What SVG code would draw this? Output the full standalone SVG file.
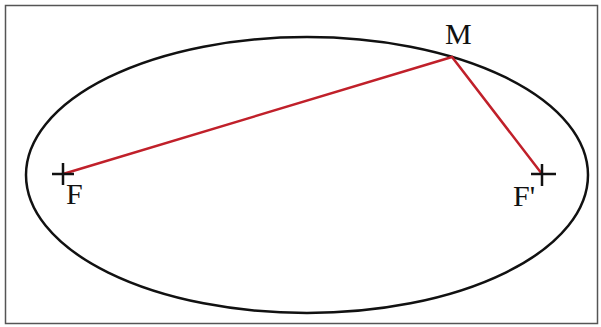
<svg xmlns="http://www.w3.org/2000/svg" width="601" height="327" viewBox="0 0 601 327">
<style>
.lbl{font-family:"Liberation Serif","Times New Roman",serif;font-size:30px;fill:#111}
.cross{stroke:#111;stroke-width:2.5;fill:none}
.seg{stroke:#c0202a;stroke-width:2.5;fill:none;stroke-linecap:round}
</style>
<rect x="0" y="0" width="601" height="327" fill="#fff"/>
<rect id="frame" x="5.5" y="5.5" width="592" height="318" fill="none" stroke="#555" stroke-width="1.5"/>
<g id="ellipse"><ellipse cx="307" cy="175" rx="281" ry="138" fill="none" stroke="#111" stroke-width="2.5"/></g>
<g id="connectors">
<polyline class="seg" points="63,174 452,57 542,174"/>
</g>
<g id="F">
<path class="cross" d="M52,174H74M63,163V185"/>
<text class="lbl" x="66" y="204">F</text>
</g>
<g id="Fprime">
<path class="cross" d="M531,174H556M542,164V186"/>
<text class="lbl" x="513" y="206">F'</text>
</g>
<g id="M">
<text class="lbl" x="445" y="44">M</text>
</g>
</svg>
